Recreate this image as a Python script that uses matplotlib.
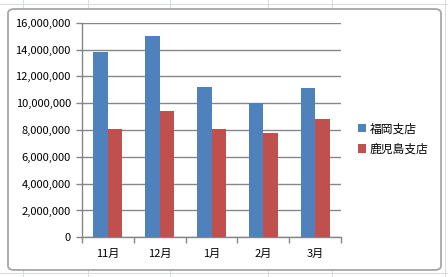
import numpy as np
import matplotlib
matplotlib.use("Agg")
import matplotlib.pyplot as plt
from matplotlib.patches import FancyBboxPatch
from matplotlib.ticker import FuncFormatter, MultipleLocator

plt.rcParams['font.family'] = ['Noto Sans CJK JP', 'DejaVu Sans']

# data
months = ["11月", "12月", "1月", "2月", "3月"]
fukuoka = [13800000, 15000000, 11200000, 10000000, 11100000]
kagoshima = [8100000, 9450000, 8100000, 7800000, 8800000]
series_names = ["福岡支店", "鹿児島支店"]

blue = "#4F81BD"
red = "#C0504D"
grid_c = "#868686"

fig = plt.figure(figsize=(4.48, 2.77), dpi=100)
fig.patch.set_facecolor("white")

# faint spreadsheet cells behind the chart
for xv in [23, 88, 170, 268, 332, 445]:
    fig.add_artist(plt.Line2D([xv / 448, xv / 448], [0, 1], color="#dadcdd",
                              lw=0.8, zorder=-3))
for yv in [4, 273]:
    fig.add_artist(plt.Line2D([0, 1], [1 - yv / 277, 1 - yv / 277], color="#dadcdd",
                              lw=0.8, zorder=-3))

# chart area frame
frame = FancyBboxPatch((8 / 448, 1 - 270 / 277), 433 / 448, 261 / 277,
                       boxstyle="round,pad=0,rounding_size=0.015",
                       transform=fig.transFigure, facecolor="white",
                       edgecolor="#a6a6a6", lw=1.3, zorder=-2)
fig.add_artist(frame)

ax = fig.add_axes([82 / 448, 1 - 237.3 / 277, 259 / 448, 214.6 / 277])
ax.set_facecolor("none")

x = np.arange(len(months))
w = 0.28
ax.bar(x - w / 2, fukuoka, width=w, color=blue, label=series_names[0], zorder=3)
ax.bar(x + w / 2, kagoshima, width=w, color=red, label=series_names[1], zorder=3)

ax.set_xlim(-0.5, len(months) - 0.5)
ax.set_ylim(0, 16000000)
ax.yaxis.set_major_locator(MultipleLocator(2000000))
ax.yaxis.set_major_formatter(FuncFormatter(lambda v, p: f"{int(v):,}"))
ax.yaxis.grid(True, color=grid_c, lw=1.0, zorder=0)

ax.set_xticks(x)
ax.set_xticklabels(months)
ax.set_xticks(np.arange(len(months) + 1) - 0.5, minor=True)
ax.tick_params(axis="x", which="major", length=0, pad=8, labelsize=8)
ax.tick_params(axis="x", which="minor", length=4, color=grid_c, width=1)
ax.tick_params(axis="y", length=4, color=grid_c, width=1, labelsize=8, pad=4)

for s in ["top", "right"]:
    ax.spines[s].set_visible(False)
for s in ["left", "bottom"]:
    ax.spines[s].set_color(grid_c)
    ax.spines[s].set_linewidth(1.0)

fig.legend(loc="center left", bbox_to_anchor=(353 / 448, 1 - 139 / 277),
           frameon=False, fontsize=8.5, handlelength=0.7, handleheight=0.7,
           handletextpad=0.3, labelspacing=0.6, borderaxespad=0)

fig.savefig("out.png", dpi=100, facecolor=fig.get_facecolor())
